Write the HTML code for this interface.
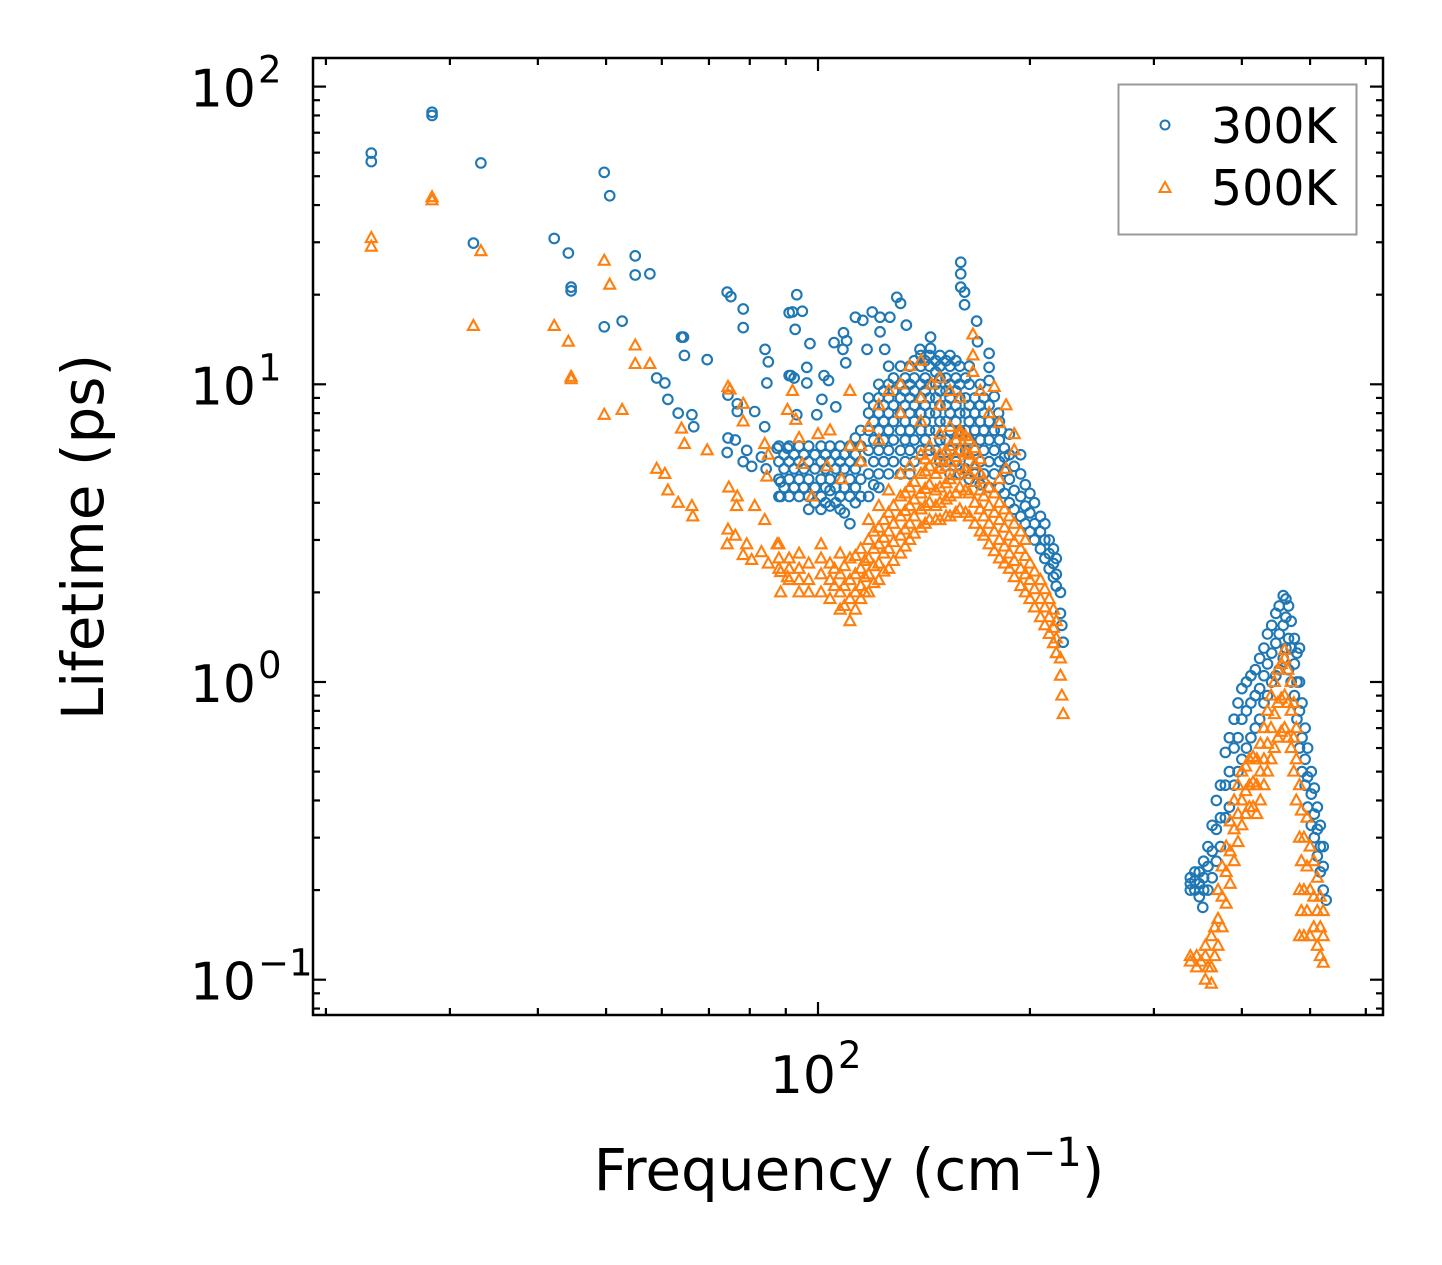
<!DOCTYPE html>
<html><head><meta charset="utf-8"><style>
html,body{margin:0;padding:0;background:#fff;}
svg{display:block;font-family:"DejaVu Sans","Liberation Sans",sans-serif;}
</style></head><body>
<svg id="chart" width="1442" height="1265" viewBox="0 0 1442 1265" xmlns="http://www.w3.org/2000/svg">
<rect width="1442" height="1265" fill="#fff"/>
<g id="marks"></g>
<g id="axes"></g>
<text x="849" y="1190" font-size="58" text-anchor="middle">Frequency (cm<tspan dy="-24" font-size="40">−1</tspan><tspan dy="24">)</tspan></text>
<text transform="translate(103,537) rotate(-90)" font-size="58" text-anchor="middle">Lifetime (ps)</text>
<g>
<rect x="1118.5" y="84.5" width="238" height="150" fill="#fff" stroke="#999" stroke-width="2"/>
<circle cx="1165" cy="125" r="4.5" fill="none" stroke="#1f77b4" stroke-width="2"/>
<text x="1211" y="143" font-size="49">300K</text>
<path d="M1165,182 L1170.5,192 L1159.5,192 Z" fill="none" stroke="#ff7f0e" stroke-width="2"/>
<text x="1211" y="205" font-size="49">500K</text>
</g>
</svg>
<script>
const yTickValues = [0.1, 1, 10, 100];
const yTickExps = ["−1", "0", "1", "2"];
const xTickValues = [100];
const xTickExps = ["2"];
const points300 = [
[28.3,82],[28.3,80],[23.2,59.8],[23.2,56],[33.2,55.4],[49.7,51.5],[50.6,43],[32.4,29.8],[42.2,30.9],[44.2,27.6],[44.6,21.2],[44.6,20.6],
[55,27],[55,23.3],[57.7,23.5],[49.7,15.6],[52.7,16.3],[74.3,20.4],[75.2,19.7],[78.3,17.9],[78.3,15.5],[64,14.4],[64.4,14.4],[64.6,12.5],[69.6,12.1],
[59,10.5],[60.6,10.1],[61.2,8.9],[63.3,8.0],[66.2,7.9],[66.6,7.2],[84.1,13.1],[85,11.9],[84.6,10.1],[74.5,9.2],[76.8,8.6],[76.8,8.1],[81.3,8.1],[84,7.2],
[74.5,6.6],[76.3,6.5],[74.3,5.9],[79.2,6.0],[78.3,5.5],[80.5,5.3],[83.1,5.7],[87.5,6.1],[84.4,5.2],[88.5,4.7],[88.5,4.2],[90.5,6.1],[91,10.7],[91,17.4],
[93.3,20],[92,17.5],[95,17.6],[92.8,15.3],[97.4,13.7],[96.4,11.4],[91.5,10.7],[92.5,10.5],[96.4,10.1],[102,10.7],[103.5,10.3],[101.3,8.9],[99.6,7.9],[93.3,7.9],[106,8.4],
[105.4,13.8],[108.7,14.9],[108.5,13.1],[109.8,14],[109.5,11.8],[113,16.8],[115.8,16.4],[119.4,17.5],[122.5,16.8],[126.5,16.8],[129.4,19.6],[131,18.7],[133.5,15.8],
[122.5,15],[117.4,13.1],[124.4,13.1],[144.5,14.4],[144.5,13.2],[139.6,13.1],[159.5,25.7],[159.5,23.5],[159.5,21.2],[161.5,20.4],[161.5,18.5],[168,16.3],[168.5,13.9],
[175,12.7],[175,11.4],[175,10.3],[178,9.1],[180.5,8.0],[182,7.0],[184,5.7],
[88,4.2],[88,4.8],[88,5.5],[88,6.2],[91,4.2],[91,4.8],[91,5.5],[91,6.2],[94,4.2],[94,4.8],[94,5.5],[94,6.2],[97,3.8],[97,4.2],[97,4.8],[97,5.5],[97,6.2],
[101,3.8],[101,4.2],[101,4.8],[101,5.5],[101,6.2],[104,3.9],[104,4.4],[104,4.8],[104,5.5],[104,6.2],[107.5,3.8],[107.5,4.2],[107.5,4.8],[107.5,5.5],[107.5,6.2],
[111,3.4],[111,4.2],[111,4.8],[111,5.5],[111,6.2],[115,4.2],[115,4.8],[115,5.5],[115,6.2],[115,7],
[89.5,4.5],[89.5,5.2],[89.5,5.8],[92.5,4.5],[92.5,5.2],[92.5,5.8],[95.5,4.5],[95.5,5.2],[95.5,5.8],[99,4.0],[99,4.5],[99,5.2],[99,5.8],
[102.5,4.0],[102.5,4.5],[102.5,5.2],[102.5,5.8],[106,4.0],[106,4.5],[106,5.2],[106,5.8],[109,3.7],[109,4.5],[109,5.2],[109,5.8],[113,4.0],[113,4.5],[113,5.2],[113,5.8],[113,6.6],
[118,4.2],[118,5],[118,6],[118,7],[118,8],[118,9],[122,4.5],[122,5],[122,6],[122,7],[122,8],[122,9],[122,10],
[126,5],[126,6],[126,7],[126,8],[126,9],[126,10],[126,11.5],[131,5],[131,6],[131,7],[131,8],[131,9],[131,10],[131,11.5],
[135,5],[135,6],[135,7],[135,8],[135,9],[135,10],[135,11.5],[140,6],[140,7],[140,8],[140,9],[140,10],[140,11.5],[140,12.5],
[144,6],[144,7],[144,8],[144,9],[144,10],[144,11.5],[144,12.5],[149,5.5],[149,6.5],[149,7.5],[149,8.5],[149,9.5],[149,10.5],[149,11.5],[149,12.5],
[154,5],[154,6],[154,7],[154,8],[154,9],[154,10],[154,11.5],[154,12.5],[159,5],[159,6],[159,7],[159,8],[159,9],[159,10],[159,11.5],
[164,4.8],[164,5.5],[164,6.5],[164,7.5],[164,8.5],[164,10],[164,11.5],[170,4.6],[170,5.5],[170,6.5],[170,7.5],[170,8.5],[170,10],
[120,4.6],[120,5.5],[120,6.5],[120,7.5],[120,8.5],[124,5.5],[124,6.5],[124,7.5],[124,8.5],[124,9.5],[128,5.5],[128,6.5],[128,7.5],[128,8.5],[128,9.5],[128,10.5],
[133,5.5],[133,6.5],[133,7.5],[133,8.5],[133,9.5],[133,10.5],[137,5.5],[137,6.5],[137,7.5],[137,8.5],[137,9.5],[137,10.5],[137,12],
[142,6.5],[142,7.5],[142,8.5],[142,9.5],[142,10.5],[142,12],[147,6],[147,7],[147,8],[147,9],[147,10],[147,11],[147,12],
[152,5.5],[152,6.5],[152,7.5],[152,8.5],[152,9.5],[152,10.5],[152,12],[157,5.5],[157,6.5],[157,7.5],[157,8.5],[157,9.5],[157,10.5],[157,12],
[162,5.2],[162,6],[162,7],[162,8],[162,9],[162,10.5],[167,5],[167,6],[167,7],[167,8],[167,9],[172,5],[172,6],[172,7],[172,8],[172,9],
[175,4.5],[175,5.5],[175,6.5],[175,7.5],[175,8.5],[181,4.5],[181,5.5],[181,6.5],[181,7.5],[187,4],[187,4.8],[187,5.8],[187,6.8],
[178,5],[178,6],[178,7],[184,4.3],[184,5.1],[184,6.1],[190,3.8],[190,4.4],[190,5.3],[197,3.4],[197,3.9],[197,4.6],[203,3.0],[203,3.4],[203,4.0],
[210,2.6],[210,3.0],[210,3.4],[216,2.25],[216,2.5],[216,2.8],
[194,3.6],[194,4.2],[194,5],[194,5.8],[200,3.2],[200,3.7],[200,4.3],[207,2.8],[207,3.2],[207,3.6],[213,2.4],[213,2.7],[213,3.0],
[218,2.1],[218,2.3],[218,2.6],[221,1.7],[221,2.0],[222,1.55],[223,1.36],
[338,0.21],[338,0.22],[338,0.2],[343,0.23],[348,0.21],[348,0.23],[348,0.19],[358,0.2],[358,0.24],[358,0.28],[352,0.175],
[368,0.25],[368,0.32],[368,0.4],[379,0.35],[379,0.45],[379,0.58],[390,0.45],[390,0.6],[390,0.75],[400,0.55],[400,0.75],[400,0.95],
[412,0.65],[412,0.85],[412,1.05],[424,0.75],[424,0.95],[424,1.2],[435,0.9],[435,1.15],[435,1.45],[447,1.05],[447,1.35],[447,1.7],
[458,1.2],[458,1.55],[458,1.95],[466,1.1],[466,1.4],[466,1.8],[475,0.9],[475,1.15],[475,1.4],[483,0.6],[483,0.8],[483,1.0],[483,1.3],
[492,0.45],[492,0.55],[492,0.7],[502,0.33],[502,0.42],[502,0.5],[512,0.26],[512,0.32],[512,0.38],[522,0.2],[522,0.24],[522,0.28],[527,0.185],
[343,0.2],[343,0.215],[353,0.2],[353,0.22],[353,0.25],[363,0.22],[363,0.27],[363,0.33],[373,0.28],[373,0.35],[373,0.45],[384,0.38],[384,0.5],[384,0.65],
[395,0.5],[395,0.65],[395,0.85],[406,0.6],[406,0.8],[406,1.0],[418,0.7],[418,0.9],[418,1.1],[430,0.85],[430,1.05],[430,1.3],[441,1.0],[441,1.25],[441,1.55],
[452,1.1],[452,1.45],[452,1.8],[462,1.3],[462,1.65],[462,1.9],[470,1.0],[470,1.3],[470,1.6],[479,0.75],[479,1.0],[479,1.25],[487,0.5],[487,0.65],[487,0.85],
[496,0.38],[496,0.48],[496,0.6],[507,0.3],[507,0.36],[507,0.44],[517,0.23],[517,0.28],[517,0.33]
];
const points500 = [
[28.3,42.5],[28.3,41.5],[23.2,31],[23.2,29],[33.2,28],[32.4,15.7],[42.2,15.7],[44.2,13.9],[44.6,10.6],[44.6,10.4],[49.7,26],[50.6,21.6],[49.7,7.9],[52.7,8.2],
[55,13.5],[55,11.7],[57.7,11.7],[59,5.2],[60.6,5.0],[61.2,4.4],[63.3,4.0],[66.2,3.9],[66.4,3.6],[64,7.1],[64.6,6.3],[69.6,6.0],
[74.5,9.8],[75,9.6],[78.3,8.6],[78.3,7.5],[84,6.3],[85,5.8],[84.6,4.9],[74.7,4.5],[76.8,4.2],[76.6,3.9],[81.3,3.9],[84,3.5],
[74.5,3.25],[76.3,3.1],[74.3,2.9],[79.2,2.9],[78.3,2.67],[80.5,2.57],[83.1,2.73],[87.5,2.9],[85,2.5],[88.5,2.34],[88.5,2.0],[90.5,2.25],
[92,9.5],[90.5,8.2],[93,7.6],[94,6.6],[95,5.4],[98,4.2],[100,6.8],[103,5.3],[104,7],[108,4.8],[111,9.5],[111,6.2],[115,5.5],[115,6.2],[118,7.2],[122,6.5],[122,8.5],
[126,9.5],[131,8],[131,10],[135,11.5],[140,7.5],[140,9],[140,12],[145,10],[149,8.5],[149,10.5],[154,9.5],[159,7],[159,9],[166,14.7],[166,12.5],[166,11],[170,9.5],
[175,8],[178,9.8],[181,7.4],[185,8.5],[190,6.8],[190,6],[185,5.2],
[88,2.9],[88,2.6],[88,2.4],[91,2.6],[91,2.4],[91,2.2],[94,2.4],[94,2.2],[94,2.0],[94,2.7],[97,2.2],[97,2.0],[97,2.5],
[101,2.0],[101,2.3],[101,2.6],[101,2.9],[104,1.9],[104,2.2],[104,2.5],[107.5,1.75],[107.5,2.0],[107.5,2.3],[107.5,2.7],
[111,1.6],[111,1.9],[111,2.2],[111,2.6],[115,1.9],[115,2.1],[115,2.4],[115,2.8],[118,2.0],[118,2.3],[118,2.6],[118,3.0],[118,3.5],
[122,2.2],[122,2.5],[122,2.9],[122,3.3],[122,3.9],[126,2.4],[126,2.8],[126,3.2],[126,3.7],[126,4.4],[131,2.7],[131,3.1],[131,3.6],[131,4.2],[131,5],
[135,3.0],[135,3.4],[135,3.9],[135,4.5],[135,5.3],[140,3.3],[140,3.8],[140,4.3],[140,5],[140,5.8],[144,3.5],[144,4],[144,4.6],[144,5.3],[144,6.2],
[149,3.5],[149,4],[149,4.5],[149,5.2],[149,5.8],[149,6.8],[154,3.6],[154,4.2],[154,4.8],[154,5.5],[154,6.2],[154,7.2],
[159,3.8],[159,4.5],[159,5.3],[159,6],[159,6.8],[164,3.6],[164,4.3],[164,5],[164,5.8],[164,6.5],[170,3.2],[170,3.8],[170,4.4],[170,5.0],[170,5.6],
[105.5,2.1],[105.5,2.4],[109,1.8],[109,2.1],[109,2.45],[113,1.75],[113,2.0],[113,2.3],[113,2.65],[116.5,2.0],[116.5,2.25],[116.5,2.55],
[120,2.15],[120,2.45],[120,2.8],[120,3.2],[124,2.35],[124,2.7],[124,3.05],[124,3.5],[128,2.55],[128,2.95],[128,3.4],[128,3.9],
[133,2.85],[133,3.25],[133,3.75],[133,4.3],[137,3.15],[137,3.6],[137,4.1],[137,4.7],[142,3.4],[142,3.9],[142,4.45],[142,5.1],[142,5.6],
[147,3.5],[147,3.9],[147,4.4],[147,5.0],[147,5.6],[152,3.6],[152,4.1],[152,4.65],[152,5.3],[152,6.0],[157,3.7],[157,4.3],[157,4.95],[157,5.7],[157,6.5],
[162,3.7],[162,4.4],[162,5.15],[162,5.9],[162,6.7],[167,3.4],[167,4.0],[167,4.7],[167,5.4],[167,6.1],[172,3.1],[172,3.6],[172,4.2],[172,4.8],
[178,2.75],[178,3.2],[178,3.7],[178,4.3],[184,2.5],[184,2.85],[184,3.3],[184,3.8],[190,2.25],[190,2.55],[190,2.95],[190,3.4],
[197,2.0],[197,2.3],[197,2.65],[197,3.0],[203,1.78],[203,2.05],[203,2.35],[210,1.55],[210,1.78],[210,2.05],[216,1.35],[216,1.52],[216,1.75],
[175,2.9],[175,3.4],[175,3.9],[175,4.5],[181,2.6],[181,3.0],[181,3.5],[181,4.0],[181,4.8],[187,2.4],[187,2.7],[187,3.1],[187,3.6],
[194,2.1],[194,2.4],[194,2.8],[194,3.2],[200,1.9],[200,2.2],[200,2.5],[207,1.65],[207,1.9],[207,2.2],[213,1.45],[213,1.65],[213,1.9],
[218,1.25],[218,1.4],[218,1.6],[221,1.05],[221,1.2],[222,0.9],[223,0.78],
[338,0.12],[338,0.115],[345,0.12],[345,0.11],[355,0.1],[355,0.12],[355,0.13],[362,0.097],[362,0.11],[362,0.14],
[370,0.13],[370,0.16],[370,0.2],[380,0.18],[380,0.23],[380,0.28],[390,0.25],[390,0.32],[390,0.4],[400,0.33],[400,0.4],[400,0.5],
[410,0.38],[410,0.45],[410,0.55],[420,0.36],[420,0.45],[420,0.55],[430,0.45],[430,0.55],[430,0.7],[440,0.55],[440,0.7],[440,0.9],
[450,0.65],[450,0.85],[450,1.1],[460,0.7],[460,0.9],[460,1.2],[460,1.28],[470,0.6],[470,0.8],[470,1.0],[478,0.4],[478,0.55],[478,0.7],
[483,0.14],[483,0.2],[483,0.3],[483,0.45],[490,0.14],[490,0.2],[490,0.3],[500,0.14],[500,0.2],[500,0.28],[512,0.13],[512,0.17],[512,0.22],
[522,0.114],[522,0.14],[522,0.17],
[350,0.115],[358,0.11],[366,0.12],[366,0.15],[375,0.15],[375,0.19],[375,0.24],[385,0.21],[385,0.27],[385,0.34],[395,0.29],[395,0.36],[395,0.45],
[405,0.36],[405,0.43],[405,0.52],[415,0.38],[415,0.46],[415,0.56],[425,0.4],[425,0.5],[425,0.62],[435,0.5],[435,0.62],[435,0.8],[445,0.6],[445,0.78],[445,1.0],
[455,0.68],[455,0.88],[455,1.15],[465,0.65],[465,0.85],[465,1.1],[474,0.5],[474,0.65],[474,0.85],[486,0.17],[486,0.25],[486,0.37],[495,0.17],[495,0.24],[495,0.35],
[506,0.15],[506,0.19],[506,0.25],[517,0.12],[517,0.15],[517,0.19]
];
const NS = "http://www.w3.org/2000/svg";
const L = 313, R = 1383, T = 58, B = 1015;
function xScale(f){ return 818 + (Math.log10(f) - 2) * 704; }
function yScale(t){ return 682 - Math.log10(t) * 297.7; }
const marks = document.getElementById('marks');
const axes = document.getElementById('axes');
function mk(tag, attrs, parent){ const e = document.createElementNS(NS, tag); for (const k in attrs) e.setAttribute(k, attrs[k]); parent.appendChild(e); return e; }
points300.forEach(p => {
  const c = mk('circle', {cx: xScale(p[0]), cy: yScale(p[1]), r: 4.8, fill: 'none', stroke: '#1f77b4', 'stroke-width': 2.1}, marks);
  
  
});
points500.forEach(p => {
  const x = xScale(p[0]), y = yScale(p[1]);
  const t = mk('path', {d: `M${x},${y-6} L${x+5.5},${y+4} L${x-5.5},${y+4} Z`, fill: 'none', stroke: '#ff7f0e', 'stroke-width': 2.1}, marks);
  
  
});
const frame = mk('rect', {x: L, y: T, width: R - L, height: B - T, fill: 'none', stroke: '#000', 'stroke-width': 2.5}, axes);


function tick(x1,y1,x2,y2){ const l = mk('line', {x1, y1, x2, y2, stroke: '#000', 'stroke-width': 2.2}, axes);   }
for (let e = -2; e <= 2; e++) {
  for (let m = 1; m <= 9; m++) {
    const v = m * Math.pow(10, e);
    const y = yScale(v);
    if (y < T || y > B) continue;
    const len = m === 1 ? 13 : 7;
    tick(L, y, L + len, y); tick(R, y, R - len, y);
  }
}
yTickValues.forEach((v, i) => {
  const y = yScale(v);
  const t = mk('text', {x: 256, y: y + 20, 'font-size': 52, 'text-anchor': 'end'}, axes);
  t.textContent = '10';
  
  
  const s = mk('text', {x: 258, y: y - 4, 'font-size': 37, 'text-anchor': 'start'}, axes);
  s.textContent = yTickExps[i];
  
  
});
for (let e = 1; e <= 2; e++) {
  for (let m = 1; m <= 9; m++) {
    const v = m * Math.pow(10, e);
    const x = xScale(v);
    if (x < L || x > R) continue;
    const len = m === 1 ? 13 : 7;
    tick(x, B, x, B - len); tick(x, T, x, T + len);
  }
}
xTickValues.forEach((v, i) => {
  const x = xScale(v);
  const t = mk('text', {x: x + 18, y: 1093, 'font-size': 52, 'text-anchor': 'end'}, axes);
  t.textContent = '10';
  
  
  const s = mk('text', {x: x + 20, y: 1068, 'font-size': 37}, axes);
  s.textContent = xTickExps[i];
  
  
});
</script>
</body></html>
